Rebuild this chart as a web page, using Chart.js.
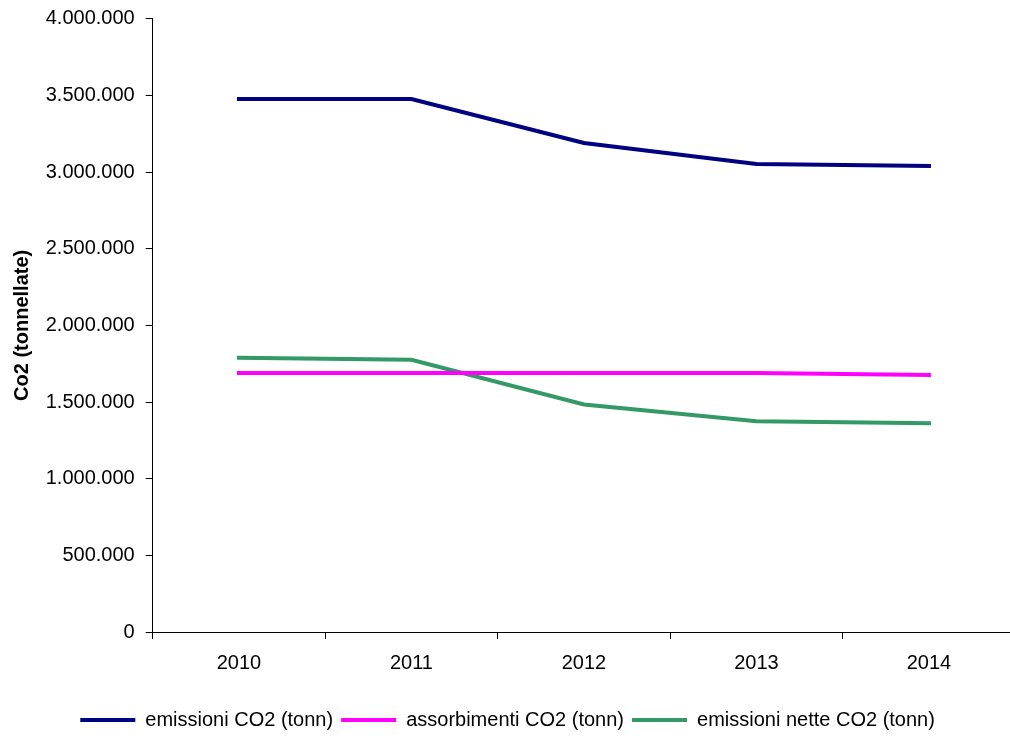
<!DOCTYPE html>
<html>
<head>
<meta charset="utf-8">
<script src="https://cdn.jsdelivr.net/npm/chart.js@4/dist/chart.umd.min.js"></script>
<style>
  html, body { margin: 0; padding: 0; background: #fff; overflow: hidden; }
  #wrap { position: relative; width: 1020px; height: 740px; }
</style>
</head>
<body>
<div id="wrap"><canvas id="c" width="1020" height="740"></canvas></div>
<script>
const categories = ['2010', '2011', '2012', '2013', '2014'];
const emissioni = [3476000, 3476000, 3189000, 3053000, 3040000];
const assorbimenti = [1689000, 1689000, 1689000, 1689000, 1676000];
const emissioniNette = [1789000, 1776000, 1484000, 1375000, 1362000];
const seriesLabels = ['emissioni CO2 (tonn)', 'assorbimenti CO2 (tonn)', 'emissioni nette CO2 (tonn)'];
const seriesColors = ['#000080', '#FF00FF', '#339966'];
const yAxisTitle = 'Co2 (tonnellate)';
const yMin = 0, yMax = 4000000, yStep = 500000;

function fmtIt(v) {
  return String(Math.round(v)).replace(/\B(?=(\d{3})+(?!\d))/g, '.');
}

const FONT = "'Liberation Sans', Arial, sans-serif";
Chart.defaults.font.family = FONT;
Chart.defaults.color = '#000';

const mk = (label, data, color) => ({
  label, data,
  borderColor: color, backgroundColor: color,
  borderWidth: 4, pointRadius: 0, pointHoverRadius: 0,
  tension: 0, fill: false, borderCapStyle: 'square', borderJoinStyle: 'miter'
});

new Chart(document.getElementById('c'), {
  type: 'line',
  data: {
    labels: categories,
    datasets: [
      mk(seriesLabels[0], emissioni, seriesColors[0]),
      mk(seriesLabels[1], assorbimenti, seriesColors[1]),
      mk(seriesLabels[2], emissioniNette, seriesColors[2])
    ]
  },
  options: {
    responsive: false,
    animation: false,
    events: [],
    layout: { padding: { top: 18.7, right: 4.8, left: 0, bottom: 0 } },
    plugins: {
      tooltip: { enabled: false },
      legend: {
        position: 'bottom',
        labels: {
          font: { size: 20, family: FONT },
          color: '#000',
          boxWidth: 55,
          boxHeight: 4,
          padding: 8,
          generateLabels: (chart) => chart.data.datasets.map((ds, i) => ({
            text: ds.label,
            fillStyle: ds.borderColor,
            strokeStyle: ds.borderColor,
            lineWidth: 0,
            datasetIndex: i,
            hidden: false
          }))
        }
      }
    },
    scales: {
      x: {
        type: 'category',
        offset: true,
        grid: {
          offset: true, drawOnChartArea: false, drawTicks: true,
          tickLength: 7, tickColor: '#000', tickWidth: 1
        },
        border: { display: true, color: '#000', width: 1 },
        ticks: { font: { size: 20, family: FONT }, color: '#000', padding: 12, maxRotation: 0 },
        afterFit: (s) => { s.height = 70; }
      },
      y: {
        min: yMin, max: yMax,
        grid: {
          drawOnChartArea: false, drawTicks: true,
          tickLength: 7, tickColor: '#000', tickWidth: 1
        },
        border: { display: true, color: '#000', width: 1 },
        ticks: {
          stepSize: yStep, font: { size: 20, family: FONT }, color: '#000', padding: 11,
          callback: (v) => fmtIt(v)
        },
        title: {
          display: true, text: yAxisTitle, color: '#000',
          font: { size: 20, weight: 'bold', family: FONT },
          padding: { top: 10, bottom: 0 }
        },
        afterFit: (s) => { s.width = 152.7; s.paddingTop = 0; s.paddingBottom = 0; }
      }
    }
  }
});
</script>
</body>
</html>
